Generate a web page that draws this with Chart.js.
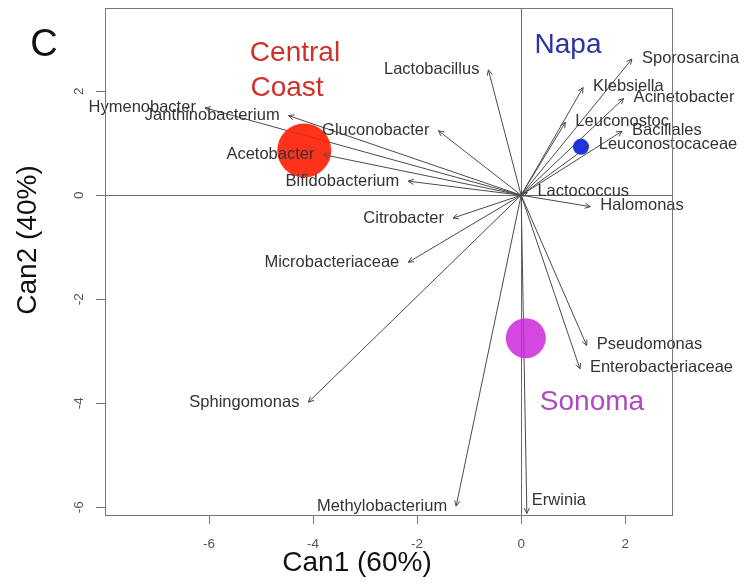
<!DOCTYPE html>
<html>
<head>
<meta charset="utf-8">
<script src="https://cdn.jsdelivr.net/npm/chart.js@4.4.1/dist/chart.umd.min.js"></script>
<style>
  html, body { margin: 0; padding: 0; background: #fff; }
  canvas { display: block; }
</style>
</head>
<body>
<canvas id="biplot" width="747" height="586"></canvas>
<script>
// species vectors (arrow tips) on the two canonical axes
const speciesNames = [
  'Lactobacillus', 'Gluconobacter', 'Hymenobacter', 'Janthinobacterium',
  'Acetobacter', 'Bifidobacterium', 'Citrobacter', 'Microbacteriaceae',
  'Sphingomonas', 'Methylobacterium', 'Erwinia', 'Pseudomonas',
  'Enterobacteriaceae', 'Halomonas', 'Lactococcus', 'Leuconostocaceae',
  'Bacillales', 'Leuconostoc', 'Acinetobacter', 'Klebsiella', 'Sporosarcina'
];
const speciesCan1 = [
  -0.63, -1.59, -6.08, -4.47, -3.80, -2.17, -1.31, -2.17, -4.09, -1.25,
  0.11, 1.26, 1.13, 1.33, 0.12, 1.30, 1.94, 0.85, 1.97, 1.19, 2.13
];
const speciesCan2 = [
  2.41, 1.24, 1.68, 1.53, 0.78, 0.27, -0.44, -1.29, -3.98, -5.98,
  -6.12, -2.89, -3.34, -0.22, 0.05, 0.95, 1.23, 1.40, 1.86, 2.07, 2.62
];

// region centroids
const groupNames = ['Central Coast', 'Napa', 'Sonoma'];
const groupCan1 = [-4.17, 1.15, 0.09];
const groupCan2 = [0.86, 0.93, -2.75];

const xTicks = [-6, -4, -2, 0, 2];
const yTicks = [-6, -4, -2, 0, 2];

// styling
const groupRadius = [27, 8, 20];
const groupFill = ['rgba(255,34,8,0.92)', 'rgba(20,40,220,0.95)', 'rgba(205,40,220,0.85)'];
const groupTextColor = ['#d0302a', '#2a33a0', '#b049c0'];
const FONT = '"Liberation Sans", Arial, sans-serif';

const arrowSets = speciesNames.map((name, i) => ({
  type: 'line',
  label: name,
  data: [{ x: 0, y: 0 }, { x: speciesCan1[i], y: speciesCan2[i] }],
  borderColor: '#4a4a4a',
  borderWidth: 1,
  pointRadius: 0,
  order: 2
}));

const centroidSet = {
  type: 'bubble',
  label: 'centroids',
  data: groupNames.map((g, i) => ({ x: groupCan1[i], y: groupCan2[i], r: groupRadius[i] })),
  backgroundColor: groupFill,
  borderWidth: 0,
  order: 1
};

function txt(ctx, s, x, y, font, color, align, rot) {
  ctx.save();
  ctx.translate(x, y);
  if (rot) ctx.rotate(rot);
  ctx.font = font;
  ctx.fillStyle = color;
  ctx.textAlign = align || 'center';
  ctx.textBaseline = 'middle';
  ctx.fillText(s, 0, 0);
  ctx.restore();
}

const biplotDecor = {
  id: 'biplotDecor',
  beforeDatasetsDraw(chart) {
    const { ctx, chartArea: a, scales: { x, y } } = chart;
    ctx.save();
    ctx.strokeStyle = '#6a6a6a';
    ctx.lineWidth = 1;
    // zero reference lines
    const x0 = Math.round(x.getPixelForValue(0)) + 0.5;
    const y0 = Math.round(y.getPixelForValue(0)) + 0.5;
    ctx.beginPath();
    ctx.moveTo(a.left, y0); ctx.lineTo(a.right, y0);
    ctx.moveTo(x0, a.top); ctx.lineTo(x0, a.bottom);
    ctx.stroke();
    ctx.restore();
  },
  afterDatasetsDraw(chart) {
    const { ctx, chartArea: a, scales: { x, y } } = chart;
    ctx.save();

    // arrowheads and species labels
    const ox = x.getPixelForValue(0), oy = y.getPixelForValue(0);
    ctx.strokeStyle = '#4a4a4a';
    ctx.lineWidth = 1;
    speciesNames.forEach((name, i) => {
      const px = x.getPixelForValue(speciesCan1[i]);
      const py = y.getPixelForValue(speciesCan2[i]);
      const ang = Math.atan2(py - oy, px - ox);
      const len = 6, spread = Math.PI / 7;
      ctx.beginPath();
      ctx.moveTo(px - len * Math.cos(ang - spread), py - len * Math.sin(ang - spread));
      ctx.lineTo(px, py);
      ctx.lineTo(px - len * Math.cos(ang + spread), py - len * Math.sin(ang + spread));
      ctx.stroke();

      const f = '16.5px ' + FONT;
      if (name === 'Erwinia') {
        txt(ctx, name, px + 5, py - 13, f, '#333', 'left');
      } else if (speciesCan1[i] < 0) {
        txt(ctx, name, px - 9, py, f, '#333', 'right');
      } else {
        txt(ctx, name, px + 10, py - 1, f, '#333', 'left');
      }
    });

    // frame
    ctx.strokeStyle = '#777';
    ctx.strokeRect(a.left + 0.5, a.top + 0.5, a.right - a.left, a.bottom - a.top);

    // ticks and tick labels
    ctx.beginPath();
    xTicks.forEach(v => {
      const p = Math.round(x.getPixelForValue(v)) + 0.5;
      ctx.moveTo(p, a.bottom); ctx.lineTo(p, a.bottom + 9);
    });
    yTicks.forEach(v => {
      const p = Math.round(y.getPixelForValue(v)) + 0.5;
      ctx.moveTo(a.left, p); ctx.lineTo(a.left - 9, p);
    });
    ctx.stroke();
    const tf = '13.5px ' + FONT;
    xTicks.forEach(v => txt(ctx, String(v), x.getPixelForValue(v), a.bottom + 29, tf, '#555'));
    yTicks.forEach(v => txt(ctx, String(v), a.left - 26, y.getPixelForValue(v), tf, '#555', 'center', -Math.PI / 2));

    // axis titles and panel letter
    txt(ctx, 'Can1 (60%)', 357, 563, '28px ' + FONT, '#111');
    txt(ctx, 'Can2 (40%)', 28, 240, '28px ' + FONT, '#111', 'center', -Math.PI / 2);
    txt(ctx, 'C', 44, 46, '38px ' + FONT, '#111');

    // region names
    const gf = '28px ' + FONT;
    txt(ctx, 'Central', 295, 53, gf, groupTextColor[0]);
    txt(ctx, 'Coast', 287, 88, gf, groupTextColor[0]);
    txt(ctx, groupNames[1], 568, 45, gf, groupTextColor[1]);
    txt(ctx, groupNames[2], 592, 402, gf, groupTextColor[2]);

    ctx.restore();
  }
};

new Chart(document.getElementById('biplot').getContext('2d'), {
  data: { datasets: [...arrowSets, centroidSet] },
  options: {
    responsive: false,
    animation: false,
    layout: { autoPadding: false, padding: { left: 105, right: 75, top: 8, bottom: 71 } },
    scales: {
      x: { type: 'linear', min: -8.0, max: 2.9, display: false },
      y: { type: 'linear', min: -6.15, max: 3.6, display: false }
    },
    plugins: { legend: { display: false }, tooltip: { enabled: false } }
  },
  plugins: [biplotDecor]
});
</script>
</body>
</html>
